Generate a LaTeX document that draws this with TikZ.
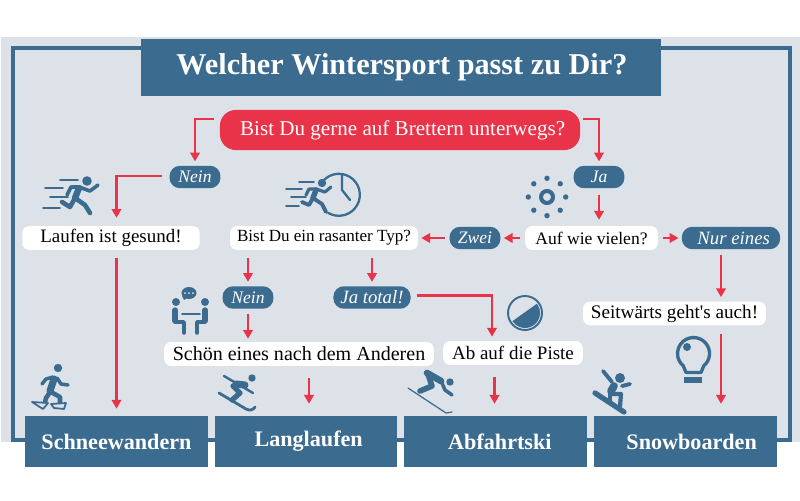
\documentclass[tikz,border=0pt]{standalone}
\usepackage{fontspec}
\setmainfont{Liberation Serif}
\usetikzlibrary{arrows.meta,calc,positioning}
\definecolor{steelblue}{HTML}{3B6B8F}
\definecolor{paleblue}{HTML}{DCE2E8}
\definecolor{alarmred}{HTML}{E93349}
\tikzset{
  flow/.style={draw=alarmred, line width=1.2pt, -{Triangle[width=5.4pt,length=5pt]}, shorten >=2.3pt, shorten <=4.5pt},
  shortflow/.style={flow, shorten >=1.7pt, shorten <=2.6pt},
  titlebox/.style={fill=steelblue, text=white, inner sep=0pt, minimum width=296.5pt, minimum height=32.5pt, font=\fontsize{17.2}{20}\selectfont\bfseries},
  sportbox/.style={fill=steelblue, text=white, inner sep=0pt, minimum width=104pt, minimum height=29pt, font=\fontsize{12.6}{15}\selectfont\bfseries},
  askbox/.style={fill=alarmred, text=white, rounded corners=9pt, inner sep=0pt, minimum width=205pt, minimum height=22.8pt, font=\fontsize{12}{14}\selectfont},
  whitebox/.style={fill=white, rounded corners=4pt, inner sep=0pt, minimum height=13.6pt, font=\fontsize{10.8}{13}\selectfont},
  answerpill/.style={fill=steelblue, text=white, rounded corners=6pt, inner sep=0pt, minimum height=12.8pt, font=\fontsize{10}{12}\selectfont\itshape},
  icon/.style={draw=steelblue, line cap=round, line join=round, line width=2.6pt},
  iconthin/.style={icon, line width=1pt},
}
\begin{document}
\begin{tikzpicture}[x=0.02cm,y=-0.02cm]
  \useasboundingbox (0,0) rectangle (800,500);
  \fill[paleblue] (1,37) rectangle (800,441.5);
  \draw[steelblue, line width=2pt] (13,48) rectangle (790,440);

  % headline and question
  \node[titlebox] (headline) at (401,67.5) {\hspace*{1pt}Welcher Wintersport passt zu Dir?};
  \node[askbox] (ask) at (400,130) {\hspace*{3pt}Bist Du gerne auf Brettern unterwegs?};

  % answers and stations
  \node[answerpill, minimum width=29pt] (neinA) at (195,177) {Nein};
  \node[answerpill, minimum width=29pt] (jaA) at (599,177) {Ja};
  \node[whitebox, minimum width=101pt] (laufen) at (111,238) {Laufen ist gesund!};
  \node[whitebox, minimum width=107pt, font=\fontsize{9.7}{12}\selectfont] (rasant) at (324,238) {Bist Du ein rasanter Typ?};
  \node[whitebox, minimum width=75.5pt, font=\fontsize{10}{12}\selectfont] (vielen) at (591.5,238) {Auf wie vielen?};
  \node[answerpill, minimum width=29pt] (zwei) at (475,238) {Zwei};
  \node[answerpill, minimum width=56pt, font=\fontsize{10.7}{12}\selectfont\itshape] (nur) at (731,238) {\hspace*{3pt}Nur eines};
  \node[answerpill, minimum width=29pt] (neinB) at (248,297.5) {Nein};
  \node[answerpill, minimum width=44pt, font=\fontsize{10.7}{12}\selectfont\itshape] (jatotal) at (372,297.5) {Ja total!};
  \node[whitebox, minimum width=104pt, font=\fontsize{10.9}{13}\selectfont] (seit) at (674.5,313.5) {Seitw\"arts geht\textquotesingle s auch!};
  \node[whitebox, minimum width=153.5pt, font=\fontsize{11.4}{13}\selectfont] (schoen) at (299,354) {Sch\"on eines nach dem Anderen};
  \node[whitebox, minimum width=79.5pt] (piste) at (513,353) {Ab auf die Piste};

  % results
  \node[sportbox] (schnee) at (116.5,441.5) {Schneewandern};
  \node[sportbox] (lang) at (306,441.5) {\hspace*{3pt}Langlaufen};
  \node[sportbox] (abfahrt) at (495.5,441.5) {\hspace*{5pt}Abfahrtski};
  \node[sportbox] (snow) at (685.5,441.5) {\hspace*{7pt}Snowboarden};

  % connectors
  \draw[flow, shorten <=0pt] ($(ask.west)+(-6,-11)$) -| (neinA.north);
  \draw[flow, shorten <=0pt] ($(ask.east)+(3,-11)$) -| (jaA.north);
  \draw[flow, shorten <=0pt, shorten >=4.5pt] ($(neinA.west)+(-7,-1)$) -| (laufen.north -| schnee.north);
  \draw[flow, shorten <=3.5pt, shorten >=3.4pt] (jaA.south) -- (jaA.south |- vielen.north);
  \draw[shortflow] (vielen.west) -- (zwei.east);
  \draw[shortflow] (zwei.west) -- (rasant.east);
  \draw[shortflow] (vielen.east) -- (nur.west);
  \draw[flow, shorten >=4pt] (laufen.south -| schnee.north) -- (schnee.north);
  \draw[flow] (rasant.south -| neinB.north) -- (neinB.north);
  \draw[flow] (rasant.south -| jatotal.north) -- (jatotal.north);
  \draw[shortflow] (neinB.south) -- (neinB.south |- schoen.north);
  \draw[flow, shorten <=0pt] ($(jatotal.east)+(6,-2)$) -| ($(piste.north)+(-21,0)$);
  \coordinate (nurfoot) at ($(nur.south)+(-10,0)$);
  \draw[flow, shorten <=3pt] (nurfoot) -- (nurfoot |- seit.north);
  \coordinate (seitfoot) at (nurfoot |- seit.south);
  \draw[flow, shorten >=6.8pt] (seitfoot) -- (seitfoot |- snow.north);
  \coordinate (langtop) at ($(lang.north)+(3,0)$);
  \draw[flow, shorten >=6.8pt, shorten <=6.8pt] (langtop |- schoen.south) -- (langtop);
  \coordinate (abtop) at ($(abfahrt.north)+(-1,0)$);
  \draw[flow, shorten >=6.8pt, shorten <=6.8pt] (abtop |- piste.south) -- (abtop);

  % runner
  \fill[steelblue] (87,181) circle (4.8);
  \draw[iconthin] (60,180) -- (78,180) (45,188) -- (63,188) (50,197) -- (68,197) (43,208) -- (60,208);
  \draw[icon, line width=3.6pt] (79,188) -- (75,198);
  \draw[icon, line width=2.6pt] (75,198) -- (85,205) -- (90,213);
  \draw[icon, line width=2.1pt] (67,195) -- (71,187) -- (79,187) -- (90,191) -- (98,185);
  \draw[icon, line width=2.6pt] (75,198) -- (70,207) -- (62,202);

  % runner against the clock
  \fill[steelblue] (322,183) circle (4.2);
  \draw[iconthin] (299,182) -- (314,182) (286,189) -- (302,189) (291,197) -- (306,197) (286,206) -- (299,206);
  \draw[icon, line width=3.1pt] (316,190) -- (313,198);
  \draw[icon, line width=2.2pt] (313,198) -- (322,204) -- (326,212);
  \draw[icon, line width=1.8pt] (306,195) -- (309,189) -- (316,189) -- (325,192) -- (331,187);
  \draw[icon, line width=2.2pt] (313,198) -- (309,205) -- (302,202);
  \draw[iconthin, line width=1.3pt] (323,181) arc[start angle=-139, end angle=121, radius=21];
  \draw[iconthin, line width=1.3pt] (342,175) -- (342,190) -- (350,200);

  % sun
  \draw[icon, line width=2.3pt] (547,197) circle (6);
  \foreach \a in {0,45,...,315}
    \fill[steelblue] (547,197) ++(\a:18.7) circle (2.7);

  % two people at a table
  \fill[steelblue] (189,293) ellipse (7.5 and 6);
  \fill[steelblue] (182,296) -- (184,300) -- (189,297) -- cycle;
  \foreach \x in {185,189,193}
    \fill[paleblue] (\x,293) circle (1);
  \fill[steelblue] (176,302) circle (4) (205,302) circle (4);
  \draw[icon, line width=1pt] (182,314) -- (200,314);
  \draw[icon, line width=3pt] (175,310) -- (175,321);
  \draw[icon, line width=3pt] (205,310) -- (205,321);
  \draw[icon, line width=2pt] (175,322) -- (184,322) -- (184,333);
  \draw[icon, line width=2pt] (205,322) -- (197,322) -- (197,333);

  % snowshoe walker
  \fill[steelblue] (58,368) circle (4.2);
  \draw[icon, line width=4pt] (54,379) -- (50,391);
  \draw[icon, line width=2pt] (53,377) -- (46,379) -- (42,384);
  \draw[icon, line width=2pt] (57,378) -- (61,384) -- (68,385);
  \draw[icon, line width=2.6pt] (50,392) -- (46,398) -- (45,402);
  \draw[icon, line width=2.6pt] (51,392) -- (60,397) -- (60,403);
  \draw[iconthin, fill=paleblue] (32,402) -- (48,403) -- (43,409) -- cycle;
  \draw[iconthin, fill=paleblue] (51,404) -- (66,403) -- (64,409) -- (54,408) -- cycle;

  % skier
  \fill[steelblue] (252,378) circle (3.7);
  \draw[icon, line width=1.4pt] (224,376) -- (253,393);
  \draw[icon, line width=4pt] (236,384) -- (245,385);
  \draw[icon, line width=3pt] (233,386) -- (240,393) -- (232,400);
  \draw[icon, line width=1.6pt] (219,393) -- (246,409) .. controls (250,411) and (253,410) .. (255,407);

  % downhill skier
  \fill[steelblue] (450,382) circle (3.7);
  \draw[icon, line width=3.8pt] (427,373) -- (441,381);
  \draw[icon, line width=3.2pt] (428,374) -- (432,386) -- (420,391);
  \draw[icon, line width=2pt] (442,383) -- (445,390) -- (452,395);
  \draw[icon, line width=.7pt] (408,388) -- (446,413) -- (452,412);

  % snowboarder
  \fill[steelblue] (620,378) circle (5);
  \draw[icon, line width=2.2pt] (603,371) -- (612,382);
  \draw[icon, line width=2.2pt] (622,386) -- (630,384);
  \draw[icon, line width=4.4pt] (614,386) -- (611,391);
  \draw[icon, line width=2.4pt] (610,394) -- (621,394) -- (620,406);
  \draw[icon, line width=2.4pt] (610,394) -- (610,401);
  \draw[icon, line width=3pt] (595,393) -- (624,412);

  % half full circle
  \draw[iconthin, line width=1.1pt] (525,313) circle (17);
  \fill[steelblue] (525,313) ++(-38:15) arc[start angle=-38, end angle=147, radius=15] -- cycle;

  % light bulb
  \draw[icon, line width=1.9pt] (703.8,365.8) arc[start angle=50, end angle=-230, radius=16] -- (686,372.5) -- (701,372.5) -- cycle;
  \fill[steelblue] (687,347) circle (4);
  \fill[steelblue] (684,377) rectangle (702,383);
\end{tikzpicture}
\end{document}
